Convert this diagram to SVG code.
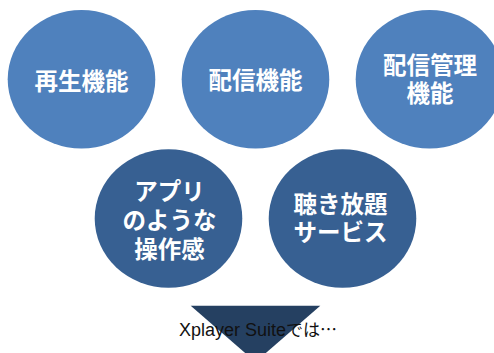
<svg xmlns="http://www.w3.org/2000/svg" width="494" height="353" viewBox="0 0 494 353">
<style>
.top{fill:#4F81BD}
.bot{fill:#376092}
.lbl{fill:#FFFFFF;font-family:"Noto Sans CJK JP","Noto Sans CJK SC",sans-serif;font-weight:bold;font-size:23.5px;text-anchor:middle}
.cap{fill:#111111;font-family:"Liberation Sans","Noto Sans CJK JP",sans-serif;font-size:18px}
.capj{font-family:"Noto Sans CJK JP","Noto Sans CJK SC",sans-serif;font-size:17px}
</style>
<rect width="494" height="353" fill="#FFFFFF"/>
<g id="node-playback">
<ellipse class="top" cx="81.5" cy="79.3" rx="73.8" ry="69.3"/>
<text class="lbl" x="81.5" y="90">再生機能</text>
</g>
<g id="node-delivery">
<ellipse class="top" cx="255.5" cy="79.3" rx="73.8" ry="69.3"/>
<text class="lbl" x="255.5" y="89">配信機能</text>
</g>
<g id="node-delivery-mgmt">
<ellipse class="top" cx="429.5" cy="79.3" rx="73.8" ry="69.3"/>
<text class="lbl" x="430" y="74"><tspan x="430" y="74">配信管理</tspan><tspan x="430" y="102">機能</tspan></text>
</g>
<g id="node-app-like">
<ellipse class="bot" cx="168.5" cy="218.5" rx="73.8" ry="69.3"/>
<text class="lbl" x="169.5" y="200"><tspan x="169.5" y="200">アプリ</tspan><tspan x="169.5" y="229">のような</tspan><tspan x="169.5" y="258">操作感</tspan></text>
</g>
<g id="node-unlimited">
<ellipse class="bot" cx="342.5" cy="218.5" rx="73.8" ry="69.3"/>
<text class="lbl" x="340.5" y="213"><tspan x="340.5" y="213">聴き放題</tspan><tspan x="340.5" y="241">サービス</tspan></text>
</g>
<g id="connectors">
<polygon points="190.7,305.7 320.3,305.7 255.5,362" fill="#254061"/>
</g>
<text class="cap" x="179" y="336">Xplayer Suite<tspan class="capj">では…</tspan></text>
</svg>
